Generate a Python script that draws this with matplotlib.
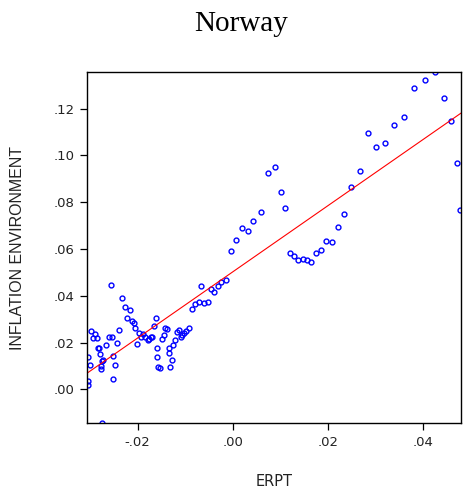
import numpy as np
import matplotlib
matplotlib.use("Agg")
import matplotlib.pyplot as plt
from matplotlib.ticker import FuncFormatter, FixedLocator

title = "Norway"
x_label = "ERPT"
y_label = "INFLATION ENVIRONMENT"

erpt = [
    -0.03044, -0.03032, -0.03038, -0.02996, -0.02968, -0.02933, -0.02884, -0.02855,
    -0.02834, -0.02800, -0.02785, -0.02775, -0.02758, -0.02749, -0.02716, -0.02737,
    -0.02665, -0.02596, -0.02560, -0.02528, -0.02522, -0.02512, -0.02476, -0.02438,
    -0.02379, -0.02316, -0.02269, -0.02211, -0.02164, -0.02118, -0.02069, -0.02048,
    -0.02006, -0.01964, -0.01922, -0.01880, -0.01838, -0.01789, -0.01754, -0.01726,
    -0.01691, -0.01655, -0.01621, -0.01600, -0.01585, -0.01571, -0.01528, -0.01491,
    -0.01448, -0.01413, -0.01379, -0.01349, -0.01333, -0.01286, -0.01316, -0.01253,
    -0.01217, -0.01164, -0.01133, -0.01097, -0.01059, -0.01023, -0.00981, -0.00918,
    -0.00863, -0.00796, -0.00712, -0.00659, -0.00602, -0.00528, -0.00459, -0.00392,
    -0.00312, -0.00238, -0.00139, -0.00042, 0.00072, 0.00183, 0.00309, 0.00429,
    0.00583, 0.00731, 0.00878, 0.01015, 0.01099, 0.01194, 0.01284, 0.01368,
    0.01467, 0.01558, 0.01651, 0.01747, 0.01853, 0.01958, 0.02072, 0.02198,
    0.02331, 0.02484, 0.02661, 0.02836, 0.03004, 0.03187, 0.03383, 0.03594,
    0.03811, 0.04036, 0.04240, 0.04429, 0.04589, 0.04709, 0.04766,
]
inflation = [
    0.00171, 0.00342, 0.01368, 0.01026, 0.02479, 0.02179, 0.02350, 0.02179,
    0.01765, 0.01752, 0.01521, 0.00996, 0.00868, 0.01222, 0.01231, -0.01427,
    0.01893, 0.02214, 0.04449, 0.02214, 0.01444, 0.00427, 0.01038, 0.01987,
    0.02526, 0.03889, 0.03509, 0.03047, 0.03397, 0.02932, 0.02821, 0.02632,
    0.01936, 0.02419, 0.02248, 0.02350, 0.02235, 0.02107, 0.02137, 0.02248,
    0.02222, 0.02692, 0.03060, 0.01752, 0.01368, 0.00966, 0.00902, 0.02137,
    0.02308, 0.02641, 0.02590, 0.01786, 0.01551, 0.01244, 0.00944, 0.01893,
    0.02124, 0.02470, 0.02534, 0.02214, 0.02320, 0.02406, 0.02504, 0.02620,
    0.03432, 0.03645, 0.03752, 0.04406, 0.03709, 0.03744, 0.04274, 0.04145,
    0.04436, 0.04577, 0.04658, 0.05897, 0.06393, 0.06893, 0.06765, 0.07192,
    0.07590, 0.09231, 0.09513, 0.08419, 0.07739, 0.05846, 0.05684, 0.05513,
    0.05568, 0.05513, 0.05427, 0.05825, 0.05940, 0.06325, 0.06295, 0.06936,
    0.07479, 0.08658, 0.09329, 0.10940, 0.10368, 0.10538, 0.11295, 0.11624,
    0.12863, 0.13218, 0.13547, 0.12436, 0.11466, 0.09658, 0.07662,
]

fit_intercept = 0.0502
fit_slope = 1.416

x_ticks = [-0.02, 0.00, 0.02, 0.04]
y_ticks = [0.00, 0.02, 0.04, 0.06, 0.08, 0.10, 0.12]
x_lim = (-0.0306, 0.0479)
y_lim = (-0.0144, 0.1356)

def fmt(v, pos=None):
    if abs(v) < 1e-12:
        return ".00"
    return ("%.2f" % v).replace("0.", ".", 1)

fig = plt.figure(figsize=(4.66, 4.95), dpi=100)
ax = fig.add_axes([87/466, 1-423/495, (461-87)/466, (423-72)/495])

ax.plot(erpt, inflation, linestyle="none", marker="o", markersize=3.5,
        markerfacecolor="none", markeredgecolor="#0000ff", markeredgewidth=1.0)

xs = np.array(x_lim)
ax.plot(xs, fit_intercept + fit_slope * xs, color="#ff0000", linewidth=0.8)

ax.set_xlim(*x_lim)
ax.set_ylim(*y_lim)
ax.xaxis.set_major_locator(FixedLocator(x_ticks))
ax.yaxis.set_major_locator(FixedLocator(y_ticks))
ax.xaxis.set_major_formatter(FuncFormatter(fmt))
ax.yaxis.set_major_formatter(FuncFormatter(fmt))

for lab in ax.get_xticklabels() + ax.get_yticklabels():
    lab.set_fontfamily("DejaVu Sans")
    lab.set_fontsize(9.5)
    lab.set_color("#222222")
ax.tick_params(direction="out", length=5, width=0.9, color="black", pad=4)
for sp in ax.spines.values():
    sp.set_linewidth(1.0)
    sp.set_color("black")

fig.text(274/466, 1-481/495, x_label, ha="center", va="center",
         family="DejaVu Sans", fontsize=10.5, color="#222222")
fig.text(18/466, 1-248/495, y_label, ha="center", va="center", rotation=90,
         family="Liberation Sans", fontsize=11.5, color="#222222")
fig.text(241/466, 1-31/495, title, ha="center", va="baseline",
         family="Liberation Serif", fontsize=21, color="black")

fig.savefig("out.png", dpi=100)
